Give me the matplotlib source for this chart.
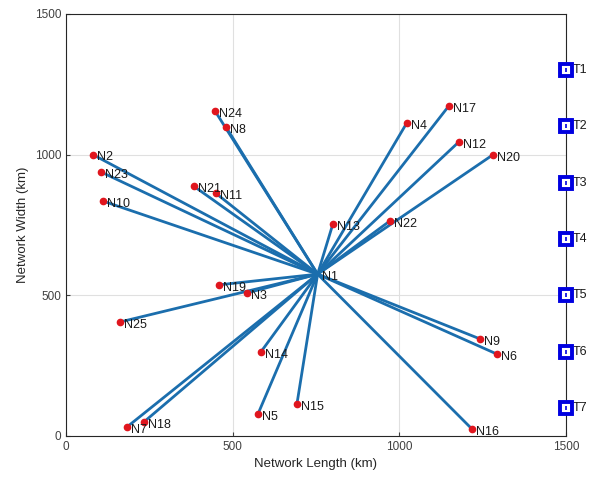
import numpy as np
import matplotlib.pyplot as plt

plt.rcParams['font.family'] = ['Liberation Sans', 'DejaVu Sans']

# hub node
hub_name = 'N1'
hub_x, hub_y = 755, 575

# nodes connected to N1
node_names = ['N2', 'N3', 'N4', 'N5', 'N6', 'N7', 'N8', 'N9', 'N10', 'N11',
              'N12', 'N13', 'N14', 'N15', 'N16', 'N17', 'N18', 'N19', 'N20',
              'N21', 'N22', 'N23', 'N24', 'N25']
node_x = [80, 543, 1023, 576, 1293, 183, 480, 1242, 110, 450,
          1179, 801, 585, 693, 1218, 1149, 234, 459, 1281,
          384, 972, 105, 447, 162]
node_y = [1000, 508, 1113, 78, 291, 32, 1098, 345, 835, 862,
          1045, 754, 299, 114, 25, 1173, 50, 537, 999,
          887, 764, 938, 1155, 405]

# terminals on the right edge
term_names = ['T1', 'T2', 'T3', 'T4', 'T5', 'T6', 'T7']
term_x = [1500] * 7
term_y = [1300, 1100, 900, 700, 500, 300, 100]

fig = plt.figure(figsize=(5.9, 4.78), dpi=100)
ax = fig.add_axes([0.112, 0.088, 0.847, 0.883])

for x, y in zip(node_x, node_y):
    ax.plot([hub_x, x], [hub_y, y], color='#1B6EAD', lw=2, zorder=2)

ax.plot(node_x, node_y, 'o', color='#E0161E', ms=4.5, zorder=3)
for n, x, y in zip(node_names, node_x, node_y):
    ax.annotate(n, (x, y), xytext=(3, -2), textcoords='offset points',
                fontsize=9, va='center', ha='left', color='#1a1a1a', zorder=4)
ax.annotate(hub_name, (hub_x, hub_y), xytext=(3, -2), textcoords='offset points',
            fontsize=9, va='center', ha='left', color='#1a1a1a', zorder=4)

ax.plot(term_x, term_y, 's', ms=8, mfc='white', mec='#0000E0', mew=2.8,
        zorder=5, clip_on=False)
ax.plot(term_x, term_y, '|', ms=3, mec='#0000E0', mew=1.2, zorder=6, clip_on=False)
for n, x, y in zip(term_names, term_x, term_y):
    ax.annotate(n, (x, y), xytext=(5, 0), textcoords='offset points',
                fontsize=9, va='center', ha='left', color='#1a1a1a',
                annotation_clip=False)

ax.set_xlim(0, 1500)
ax.set_ylim(0, 1500)
ax.set_xticks([0, 500, 1000, 1500])
ax.set_yticks([0, 500, 1000, 1500])
ax.grid(True, color='#e0e0e0', lw=0.8)
ax.set_axisbelow(True)
ax.tick_params(direction='in', labelsize=8.5, colors='#404040', length=3)
for s in ax.spines.values():
    s.set_color('#262626')
    s.set_linewidth(0.8)
ax.set_xlabel('Network Length (km)', fontsize=9.5, color='#262626')
ax.set_ylabel('Network Width (km)', fontsize=9.5, color='#262626')

fig.savefig('out.png', dpi=100)
